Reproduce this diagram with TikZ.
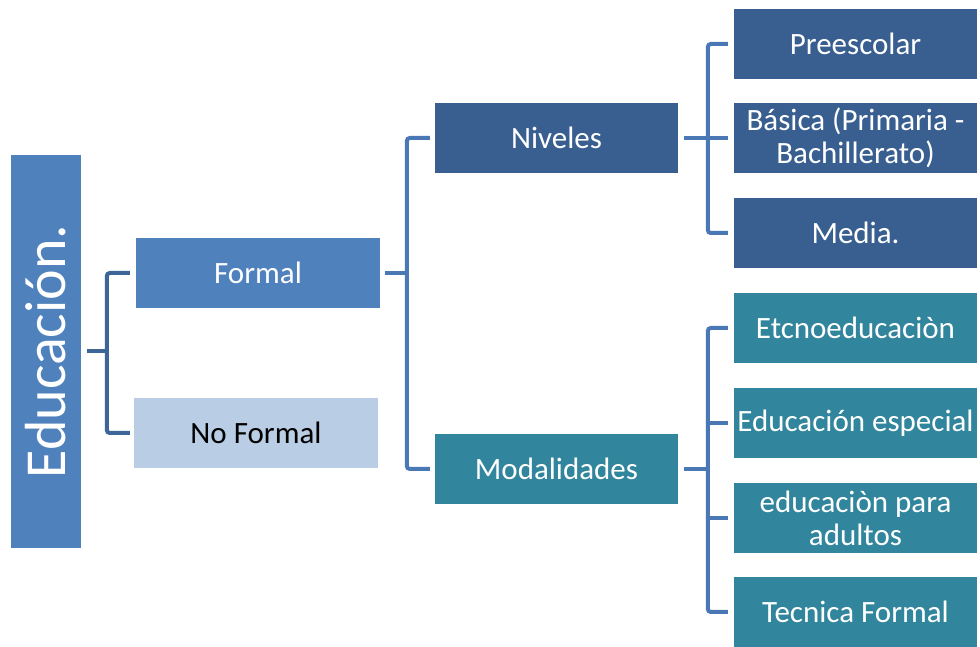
\documentclass[tikz,border=0pt]{standalone}
\usepackage{fontspec}
\setmainfont{Carlito}
\definecolor{cA}{HTML}{4F81BD}
\definecolor{cLight}{HTML}{B9CDE5}
\definecolor{cDark}{HTML}{395F91}
\definecolor{cTeal}{HTML}{31859C}
\definecolor{cLine1}{HTML}{3D6597}
\definecolor{cLine}{HTML}{4A78B4}
\begin{document}
\begin{tikzpicture}[x=1pt,y=1pt,
  box/.style={minimum width=243pt,minimum height=70pt,inner sep=0pt,text=white,
    font=\fontsize{31}{33}\selectfont,align=center},
  conn/.style={line width=4pt,rounded corners=3pt,color=cLine},
  conn1/.style={conn,color=cLine1}]
\useasboundingbox (0,0) rectangle (980,647);
\fill[white] (0,0) rectangle (980,647);
% root
\node[fill=cA,minimum width=70pt,minimum height=393pt,inner sep=0pt] (edu) at (46,647-351.5) {};
\node[text=white,rotate=90,font=\fontsize{58}{60}\selectfont,inner sep=0pt] (edut) at (edu.center) {Educación.};
% level 1
\node[box,fill=cA,minimum width=244pt] (formal) at (258,647-273) {Formal};
\node[box,fill=cLight,text=black,minimum width=244pt] (noformal) at (256,647-433) {No Formal};
% level 2
\node[box,fill=cDark] (niveles) at (556.5,647-138) {Niveles};
\node[box,fill=cTeal] (modal) at (556.5,647-469) {Modalidades};
% level 3
\node[box,fill=cDark] (pre) at (855.5,647-44) {Preescolar};
\node[box,fill=cDark] (bas) at (855.5,647-138) {Básica (Primaria -\\Bachillerato)};
\node[box,fill=cDark] (med) at (855.5,647-233) {Media.};
\node[box,fill=cTeal] (etc) at (855.5,647-328) {Etcnoeducaciòn};
\node[box,fill=cTeal] (esp) at (855.5,647-423) {Educación especial};
\node[box,fill=cTeal] (adu) at (855.5,647-518) {educaciòn para\\adultos};
\node[box,fill=cTeal] (tec) at (855.5,647-612) {Tecnica Formal};
% connectors
\draw[conn1] ([xshift=6pt]edu.east) -- ++(21,0);
\draw[conn1] ([xshift=-6pt]formal.west) -- ++(-23,0) |- ([xshift=-4pt]noformal.west);
\draw[conn] ([xshift=5pt]formal.east) -- ++(22,0);
\draw[conn] ([xshift=-5pt]niveles.west) -- ++(-23,0) |- ([xshift=-5pt]modal.west);
\draw[conn] ([xshift=6pt]niveles.east) -- ([xshift=-6pt]bas.west);
\draw[conn] ([xshift=-6pt]pre.west) -- ++(-20,0) |- ([xshift=-6pt]med.west);
\draw[conn] ([xshift=6pt]modal.east) -- ++(24,0);
\draw[conn] ([xshift=-6pt]etc.west) -- ++(-20,0) |- ([xshift=-6pt]tec.west);
\draw[conn] ([xshift=-6pt]esp.west) -- ++(-20,0);
\draw[conn] ([xshift=-6pt]adu.west) -- ++(-20,0);
\end{tikzpicture}
\end{document}
